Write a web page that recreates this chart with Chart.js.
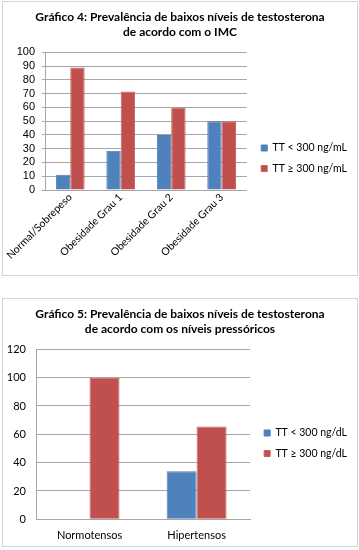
<!DOCTYPE html>
<html><head><meta charset="utf-8">
<script src="https://cdn.jsdelivr.net/npm/chart.js@4"></script>
<style>
html,body{margin:0;padding:0;background:#fff;}
body{width:359px;height:550px;position:relative;overflow:hidden;}
.box{position:absolute;left:2px;width:354px;border:1px solid #d4d4d4;background:#fff;}
#b1{top:1px;height:273px;}
#b2{top:298px;height:247px;}
canvas{display:block;}
</style></head><body>
<div class="box" id="b1"><canvas id="c1" width="354" height="273"></canvas></div>
<div class="box" id="b2"><canvas id="c2" width="354" height="247"></canvas></div>
<script>
// ---- Chart 4 data ----
const title1 = ['Gráfico 4: Prevalência de baixos níveis de testosterona', 'de acordo com o IMC'];
const categories1 = ['Normal/Sobrepeso', 'Obesidade Grau 1', 'Obesidade Grau 2', 'Obesidade Grau 3'];
const seriesNames1 = ['TT < 300 ng/mL', 'TT \u2265 300 ng/mL'];
const lowTT1 = [11, 28.5, 40, 50];
const highTT1 = [89, 71.5, 60, 50];
const yMax1 = 100, yStep1 = 10;

// ---- Chart 5 data ----
const title2 = ['Gráfico 5: Prevalência de baixos níveis de testosterona', 'de acordo com os níveis pressóricos'];
const categories2 = ['Normotensos', 'Hipertensos'];
const seriesNames2 = ['TT < 300 ng/dL', 'TT \u2265 300 ng/dL'];
const lowTT2 = [0, 34];
const highTT2 = [100, 65.5];
const yMax2 = 120, yStep2 = 20;

const BLUE = '#4F81BD', BLUE_B = '#4A7CB8';
const RED = '#C0504D', RED_B = '#C85E5B';
const GRID = '#a6a6a6';
const TXT = '#000';

Chart.defaults.font.family = 'Lato';
Chart.defaults.color = TXT;

function makeChart(id, title, cats, names, low, high, yMax, yStep, cfg) {
  return new Chart(document.getElementById(id), {
    type: 'bar',
    data: {
      labels: cats,
      datasets: [
        {label: names[0], data: low, backgroundColor: BLUE, borderColor: BLUE_B, borderWidth: 1,
         categoryPercentage: cfg.catPct, barPercentage: 1},
        {label: names[1], data: high, backgroundColor: RED, borderColor: RED_B, borderWidth: 1,
         categoryPercentage: cfg.catPct, barPercentage: 1}
      ]
    },
    options: {
      responsive: false,
      animation: false,
      devicePixelRatio: 1,
      layout: {padding: {left: 0, right: 0, top: 0, bottom: 0}},
      plugins: {
        tooltip: {enabled: false},
        title: {
          display: true, text: title, color: TXT,
          font: {family: 'Lato', size: 12, weight: 'bold', lineHeight: 1.25},
          padding: {top: 7.5, bottom: 12.8}
        },
        legend: {
          position: 'right', align: 'center', maxWidth: 200,
          title: {display: true, text: '', font: {size: 10, lineHeight: 1}, padding: {top: cfg.legendShift - 10, bottom: 0}},
          labels: {boxWidth: 6, boxHeight: 6, padding: 10, color: TXT, font: {family: 'Lato', size: 10.5}}
        }
      },
      scales: {
        x: {
          grid: {display: false, drawTicks: false},
          border: {color: GRID},
          ticks: {minRotation: cfg.rot, maxRotation: cfg.rot, padding: cfg.xPad, color: TXT, font: {family: 'Lato', size: cfg.xFontSize}},
          afterFit: (s) => { s.height = cfg.xAxisH; s.paddingLeft = 0; s.paddingRight = 0; }
        },
        y: {
          min: 0, max: yMax,
          ticks: {stepSize: yStep, autoSkip: false, padding: cfg.yPad, color: TXT, font: {family: cfg.yFont, size: 11}},
          grid: {color: GRID, drawTicks: cfg.yTicks, tickLength: 3},
          border: {color: GRID},
          afterFit: (s) => { s.width = cfg.yAxisW; }
        },
        // spacer between plot area and legend (no ticks, no line)
        gap: {
          type: 'linear', position: 'right', display: true,
          grid: {display: false, drawTicks: false}, border: {display: false}, ticks: {display: false},
          afterFit: (s) => { s.width = cfg.gapW; }
        }
      }
    }
  });
}

makeChart('c1', title1, categories1, seriesNames1, lowTT1, highTT1, yMax1, yStep1, {
  catPct: 0.57, rot: 45, xPad: 1, xFontSize: 10.5, yPad: 7, yTicks: true, yFont: 'Liberation Sans', xAxisH: 85,
  yAxisW: 42, gapW: 4.3, legendShift: 39.5
});
makeChart('c2', title2, categories2, seriesNames2, lowTT2, highTT2, yMax2, yStep2, {
  catPct: 0.56, rot: 0, xPad: 9.4, xFontSize: 11, yPad: 10, yTicks: false, yFont: 'Lato', xAxisH: 26.7,
  yAxisW: 33, gapW: 4, legendShift: 41.5
});
</script>
</body></html>
